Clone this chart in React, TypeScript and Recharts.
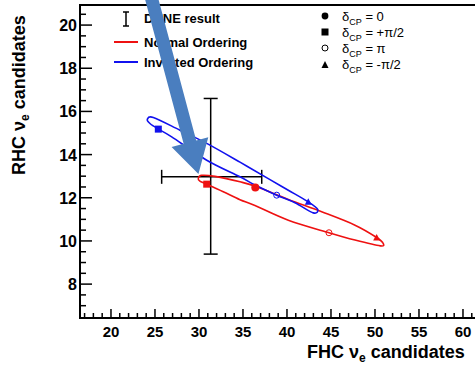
import React from 'react';
import { ScatterChart, Scatter, XAxis, YAxis, ErrorBar, ReferenceArea, ReferenceLine } from 'recharts';

const FONT = 'Liberation Sans, Arial, Helvetica, sans-serif';
const RED = '#ee1111';
const BLUE = '#1111ee';
const ARROW = '#4a7ebf';

// axis ranges (FHC on x, RHC on y)
const xDomain = [16.48, 63.07];
const yDomain = [6.43, 20.93];
const xTicks = Array.from({ length: 46 }, (_, i) => 17 + i);
const yTicks = Array.from({ length: 28 }, (_, i) => 7 + i * 0.5);

// 90% contours
const normalContour = [
  { x: 29.92, y: 12.9 },
  { x: 30.3, y: 13.04 },
  { x: 31.82, y: 12.99 },
  { x: 34.66, y: 12.74 },
  { x: 36.56, y: 12.51 },
  { x: 40.15, y: 11.92 },
  { x: 43.94, y: 11.35 },
  { x: 47.73, y: 10.73 },
  { x: 50.19, y: 10.16 },
  { x: 50.94, y: 9.88 },
  { x: 50.6, y: 9.77 },
  { x: 47.73, y: 10.04 },
  { x: 44.77, y: 10.38 },
  { x: 40.15, y: 10.96 },
  { x: 36.36, y: 11.64 },
  { x: 34.66, y: 11.91 },
  { x: 32.76, y: 12.28 },
  { x: 30.88, y: 12.63 },
  { x: 30.1, y: 12.77 },
];

const invertedContour = [
  { x: 24.13, y: 15.63 },
  { x: 24.81, y: 15.72 },
  { x: 27.84, y: 15.13 },
  { x: 30.88, y: 14.52 },
  { x: 34.66, y: 13.65 },
  { x: 38.07, y: 12.84 },
  { x: 40.15, y: 12.35 },
  { x: 42.42, y: 11.81 },
  { x: 43.49, y: 11.46 },
  { x: 42.99, y: 11.3 },
  { x: 40.91, y: 11.77 },
  { x: 38.83, y: 12.12 },
  { x: 36.36, y: 12.59 },
  { x: 34.66, y: 12.97 },
  { x: 30.88, y: 13.74 },
  { x: 26.9, y: 14.82 },
  { x: 25.38, y: 15.18 },
  { x: 24.43, y: 15.44 },
];

// delta_CP points
const normalDcp0 = [{ x: 36.4, y: 12.48 }];
const normalDcpPlus = [{ x: 30.88, y: 12.63 }];
const normalDcpPi = [{ x: 44.77, y: 10.38 }];
const normalDcpMinus = [{ x: 50.19, y: 10.16 }];
const invertedDcpPlus = [{ x: 25.38, y: 15.18 }];
const invertedDcpPi = [{ x: 38.83, y: 12.12 }];
const invertedDcpMinus = [{ x: 42.42, y: 11.81 }];

// DUNE result with asymmetric errors
const duneResult = [{ x: 31.33, y: 12.97, ex: [5.57, 5.8], ey: [3.58, 3.63] }];

// annotation arrow (tail, tip)
const arrowSegment = [{ x: 24.08, y: 22.04 }, { x: 29.94, y: 13.1 }];

const XTick = ({ x, y, payload }: any) => {
  const v = payload.value;
  const major = v % 5 === 0;
  return (
    <g>
      <line x1={x} x2={x} y1={y} y2={y - (major ? 9 : 5)} stroke="#000" strokeWidth={1.5} />
      {major && (
        <text x={x} y={y + 19} textAnchor="middle" fontSize={15} fontWeight="bold" fontFamily={FONT} fill="#000">
          {v}
        </text>
      )}
    </g>
  );
};

const YTick = ({ x, y, payload }: any) => {
  const v = payload.value;
  const major = v % 2 === 0;
  return (
    <g>
      <line x1={x} x2={x + (major ? 12 : 6)} y1={y} y2={y} stroke="#000" strokeWidth={1.5} />
      {major && (
        <text x={x - 3} y={y + 6} textAnchor="end" fontSize={16} fontWeight="bold" fontFamily={FONT} fill="#000">
          {v}
        </text>
      )}
    </g>
  );
};

const none = () => <g />;
const dot = (c: string) => (p: any) => <circle cx={p.cx} cy={p.cy} r={4} fill={c} />;
const square = (c: string) => (p: any) => <rect x={p.cx - 3.5} y={p.cy - 3.5} width={7} height={7} fill={c} />;
const ring = (c: string) => (p: any) => <circle cx={p.cx} cy={p.cy} r={3} fill="none" stroke={c} strokeWidth={1} />;
const tri = (c: string) => (p: any) => (
  <polygon points={`${p.cx},${p.cy - 3.5} ${p.cx - 3.5},${p.cy + 3} ${p.cx + 3.5},${p.cy + 3}`} fill={c} />
);

// closed catmull-rom through the scaled contour points
const smoothClosed = (color: string) => (props: any) => {
  const pts = props.points || [];
  const n = pts.length;
  if (n < 3) return <g />;
  let d = `M${pts[0].x},${pts[0].y}`;
  for (let i = 0; i < n; i++) {
    const p0 = pts[(i - 1 + n) % n];
    const p1 = pts[i];
    const p2 = pts[(i + 1) % n];
    const p3 = pts[(i + 2) % n];
    const c1x = p1.x + (p2.x - p0.x) / 6;
    const c1y = p1.y + (p2.y - p0.y) / 6;
    const c2x = p2.x - (p3.x - p1.x) / 6;
    const c2y = p2.y - (p3.y - p1.y) / 6;
    d += ` C${c1x},${c1y} ${c2x},${c2y} ${p2.x},${p2.y}`;
  }
  return <path d={d} fill="none" stroke={color} strokeWidth={1.6} />;
};

const ArrowShape = (props: any) => {
  const { x1, y1, x2, y2 } = props;
  const len = Math.hypot(x2 - x1, y2 - y1);
  const ux = (x2 - x1) / len;
  const uy = (y2 - y1) / len;
  const nx = -uy;
  const ny = ux;
  const sh = 6.5;
  const hh = 19;
  const bx = x2 - ux * 33;
  const by = y2 - uy * 33;
  const pts = [
    [x1 + nx * sh, y1 + ny * sh],
    [bx + nx * sh, by + ny * sh],
    [bx + nx * hh, by + ny * hh],
    [x2, y2],
    [bx - nx * hh, by - ny * hh],
    [bx - nx * sh, by - ny * sh],
    [x1 - nx * sh, y1 - ny * sh],
  ];
  return <polygon points={pts.map((p) => p.join(',')).join(' ')} fill={ARROW} />;
};

const Legend = () => (
  <svg width={475} height={367} style={{ position: 'absolute', left: 0, top: 0 }} fontFamily={FONT}>
    <g stroke="#000" strokeWidth={1.5}>
      <line x1={126} x2={126} y1={12} y2={26} />
      <line x1={123} x2={129} y1={12} y2={12} />
      <line x1={123} x2={129} y1={26} y2={26} />
    </g>
    <text x={144} y={23} fontSize={13} fontWeight="bold">DUNE result</text>
    <line x1={114} x2={138} y1={42} y2={42} stroke={RED} strokeWidth={2} />
    <text x={144} y={47} fontSize={13} fontWeight="bold">Normal Ordering</text>
    <line x1={114} x2={138} y1={62} y2={62} stroke={BLUE} strokeWidth={2} />
    <text x={144} y={67} fontSize={13} fontWeight="bold">Inverted Ordering</text>

    <circle cx={325} cy={16} r={3.4} fill="#000" />
    <rect x={321.5} y={28.5} width={7} height={7} fill="#000" />
    <circle cx={325} cy={48} r={3} fill="none" stroke="#000" strokeWidth={1} />
    <polygon points="325,61 321.5,68 328.5,68" fill="#000" />
    {['= 0', '= +\u03c0/2', '= \u03c0', '= -\u03c0/2'].map((t, i) => (
      <text key={t} x={342} y={20.5 + i * 16.3} fontSize={13}>
        δ<tspan dy={4} fontSize={9}>CP</tspan>
        <tspan dy={-4}> {t}</tspan>
      </text>
    ))}

    <text x={307} y={358} fontSize={18} fontWeight="bold">
      FHC ν<tspan dy={3.5} fontSize={12}>e</tspan>
      <tspan dy={-3.5}> candidates</tspan>
    </text>
    <text transform="rotate(-90)" x={-175} y={25} fontSize={18} fontWeight="bold">
      RHC ν<tspan dy={4} fontSize={12}>e</tspan>
      <tspan dy={-4}> candidates</tspan>
    </text>
  </svg>
);

export default function App() {
  return (
    <div style={{ position: 'absolute', left: 0, top: 0, width: 475, height: 367, overflow: 'hidden', background: '#fff' }}>
      <Legend />
      <div style={{ position: 'absolute', left: 0, top: 0 }}>
        <ScatterChart width={490} height={367} margin={{ top: 5, right: 0, bottom: 0, left: 0 }}>
          <XAxis
            type="number"
            dataKey="x"
            domain={xDomain}
            allowDataOverflow
            ticks={xTicks}
            interval={0}
            height={49}
            tickSize={0}
            tickMargin={0}
            tickLine={false}
            tick={<XTick />}
            axisLine={{ stroke: '#000', strokeWidth: 2 }}
          />
          <YAxis
            type="number"
            dataKey="y"
            domain={yDomain}
            allowDataOverflow
            ticks={yTicks}
            interval={0}
            width={80}
            tickSize={0}
            tickMargin={0}
            tickLine={false}
            tick={<YTick />}
            axisLine={{ stroke: '#000', strokeWidth: 2 }}
          />
          <ReferenceArea
            x1={xDomain[0]}
            x2={xDomain[1]}
            y1={yDomain[0]}
            y2={yDomain[1]}
            fill="none"
            fillOpacity={0}
            stroke="#000"
            strokeWidth={2}
            ifOverflow="visible"
          />
          <Scatter data={normalContour} shape={none} line={smoothClosed(RED)} fill={RED} isAnimationActive={false} />
          <Scatter data={invertedContour} shape={none} line={smoothClosed(BLUE)} fill={BLUE} isAnimationActive={false} />
          <Scatter data={normalDcp0} shape={dot(RED)} isAnimationActive={false} />
          <Scatter data={normalDcpPlus} shape={square(RED)} isAnimationActive={false} />
          <Scatter data={normalDcpPi} shape={ring(RED)} isAnimationActive={false} />
          <Scatter data={normalDcpMinus} shape={tri(RED)} isAnimationActive={false} />
          <Scatter data={invertedDcpPlus} shape={square(BLUE)} isAnimationActive={false} />
          <Scatter data={invertedDcpPi} shape={ring(BLUE)} isAnimationActive={false} />
          <Scatter data={invertedDcpMinus} shape={tri(BLUE)} isAnimationActive={false} />
          <Scatter data={duneResult} shape={none} fill="#000" isAnimationActive={false}>
            <ErrorBar dataKey="ex" direction="x" width={7} stroke="#000" strokeWidth={1.5} isAnimationActive={false} />
            <ErrorBar dataKey="ey" direction="y" width={7} stroke="#000" strokeWidth={1.5} isAnimationActive={false} />
          </Scatter>
          <ReferenceLine segment={arrowSegment} ifOverflow="visible" shape={ArrowShape} zIndex={2000} />
        </ScatterChart>
      </div>
    </div>
  );
}
